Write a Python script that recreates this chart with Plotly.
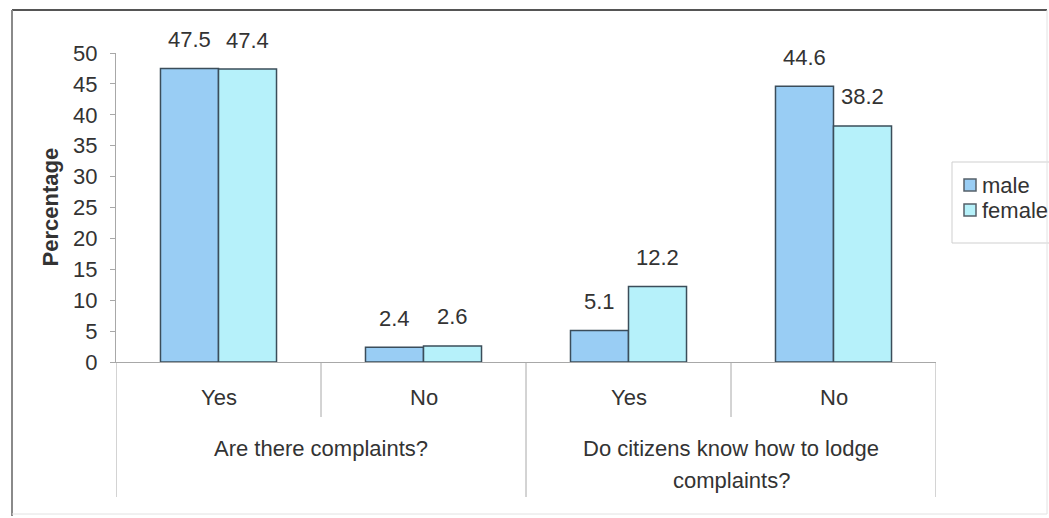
import plotly.graph_objects as go

# Survey results by gender (percent)
sub_labels = ["Yes", "No", "Yes", "No"]
question_lines = [["Are there complaints?"], ["Do citizens know how to lodge", "complaints?"]]
male = [47.5, 2.4, 5.1, 44.6]
female = [47.4, 2.6, 12.2, 38.2]
series_names = ["male", "female"]
y_ticks = [0, 5, 10, 15, 20, 25, 30, 35, 40, 45, 50]

W, H = 1049, 518
L, R, T, B = 116, 936, 53, 362   # plot area in pixels
PW, PH = R - L, B - T

FONT = "Liberation Sans, Arial, sans-serif"
FS = 22
TXT = "#333333"
GRID = "#a8a8a8"
EDGE = "#3b4d5a"
COLORS = ["#99cdf4", "#b6f1fa"]
BARGAP = 0.434
BAR_W = (1 - BARGAP) / 2


def px_x(p):
    return (p - L) / PW


def px_y(p):
    return (B - p) / PH


pos = list(range(len(sub_labels)))

fig = go.Figure()
for vals, name, col in zip((male, female), series_names, COLORS):
    fig.add_trace(go.Bar(
        x=pos, y=vals, name=name,
        marker=dict(color=col, line=dict(color=EDGE, width=1.5)),
    ))

annotations = []
# value labels above each bar
for series, shift in ((male, -BAR_W / 2), (female, BAR_W / 2)):
    for i, v in enumerate(series):
        annotations.append(dict(
            x=i + shift, y=v, xref="x", yref="y", text=f"{v}",
            showarrow=False, yanchor="middle", yshift=29,
            font=dict(family=FONT, size=FS, color=TXT),
        ))

# inner category labels
for i, lab in enumerate(sub_labels):
    annotations.append(dict(
        x=i, y=0, xref="x", yref="paper", text=lab, showarrow=False,
        yanchor="middle", yshift=-35,
        font=dict(family=FONT, size=FS, color=TXT),
    ))

# outer group labels
n_sub = len(sub_labels) // len(question_lines)
for g, lines in enumerate(question_lines):
    cx = g * n_sub + (n_sub - 1) / 2
    for k, line in enumerate(lines):
        annotations.append(dict(
            x=cx, y=0, xref="x", yref="paper", text=line, showarrow=False,
            yanchor="middle", yshift=-86 - 32 * k,
            font=dict(family=FONT, size=FS, color=TXT),
        ))

# y-axis title
annotations.append(dict(
    x=px_x(50), y=0.5, xref="paper", yref="paper", text="<b>Percentage</b>",
    textangle=-90, showarrow=False, xanchor="center", yanchor="middle",
    font=dict(family=FONT, size=FS, color=TXT),
))

shapes = []
# category dividers: long ones around each question, short ones between answers
for j in range(len(sub_labels) + 1):
    xb = j - 0.5
    long_line = (j % n_sub == 0)
    shapes.append(dict(
        type="line", xref="x", yref="paper", x0=xb, x1=xb,
        y0=0, y1=px_y(497 if long_line else 417),
        line=dict(color=GRID, width=1),
    ))

# legend box with swatches
shapes.append(dict(
    type="rect", xref="paper", yref="paper",
    x0=px_x(952), x1=px_x(1060), y0=px_y(162), y1=px_y(243),
    line=dict(color="#cfcfcf", width=1), fillcolor="white", layer="below",
))
for k, (name, col) in enumerate(zip(series_names, COLORS)):
    cy = 185 + 25 * k
    shapes.append(dict(
        type="rect", xref="paper", yref="paper",
        x0=px_x(964), x1=px_x(976), y0=px_y(cy - 6), y1=px_y(cy + 6),
        line=dict(color="#55606a", width=1.5), fillcolor=col,
    ))
    annotations.append(dict(
        x=px_x(980), y=px_y(cy), xref="paper", yref="paper", text=name,
        showarrow=False, xanchor="left", yanchor="middle",
        font=dict(family=FONT, size=FS, color=TXT),
    ))

# chart frame
frame = [
    (12, 10, 1047, 10, "#555555", 2),
    (12, 10, 12, 516, "#8a8a8a", 2),
    (1047, 10, 1047, 514, "#e2e2e2", 1),
    (12, 514, 1047, 514, "#e2e2e2", 1),
]
for x0, y0, x1, y1, c, w in frame:
    shapes.append(dict(
        type="line", xref="paper", yref="paper",
        x0=px_x(x0), y0=px_y(y0), x1=px_x(x1), y1=px_y(y1),
        line=dict(color=c, width=w),
    ))

fig.update_layout(
    width=W, height=H, autosize=False,
    margin=dict(l=L, r=W - R, t=T, b=H - B, pad=0),
    paper_bgcolor="white", plot_bgcolor="white",
    barmode="group", bargap=BARGAP, bargroupgap=0,
    showlegend=False,
    xaxis=dict(
        range=[-0.5, len(sub_labels) - 0.5], showgrid=False, zeroline=False,
        showline=True, linecolor=GRID, linewidth=1,
        showticklabels=False, ticks="", fixedrange=True,
    ),
    yaxis=dict(
        range=[0, 50], tickvals=y_ticks, showgrid=False, zeroline=False,
        showline=True, linecolor=GRID, linewidth=1,
        ticks="outside", ticklen=5, tickcolor=GRID, ticklabelstandoff=8,
        tickfont=dict(family=FONT, size=FS, color=TXT),
    ),
    annotations=annotations,
    shapes=shapes,
    font=dict(family=FONT, color=TXT),
)

fig.write_html(
    "out.html",
    config={"responsive": False},
    post_script=(
        "document.documentElement.style.overflow='hidden';"
        "document.body.style.margin='0';"
        "document.body.style.overflow='hidden';"
    ),
)
